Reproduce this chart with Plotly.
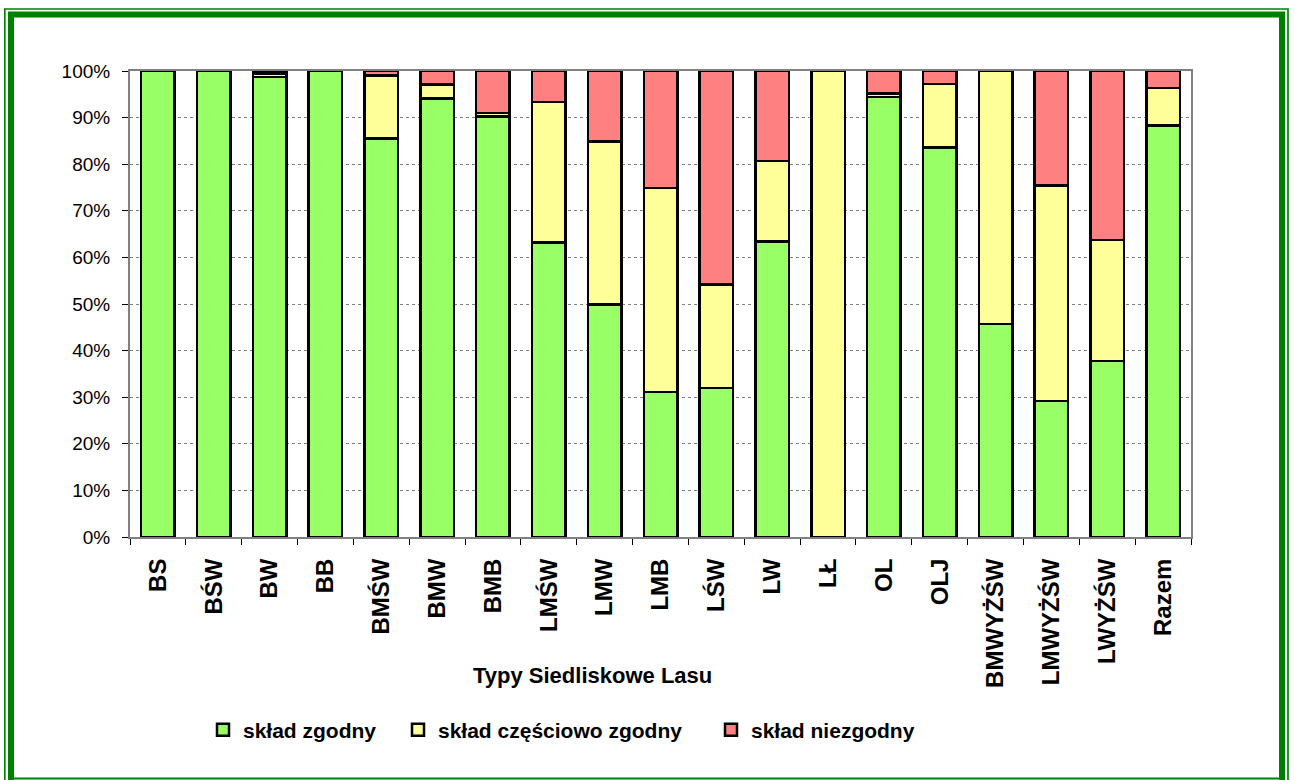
import plotly.graph_objects as go

categories = ["BS", "BŚW", "BW", "BB", "BMŚW", "BMW", "BMB", "LMŚW", "LMW", "LMB",
              "LŚW", "LW", "LŁ", "OL", "OLJ", "BMWYŻŚW", "LMWYŻŚW", "LWYŻŚW", "Razem"]
zgodny = [100, 100, 98.7, 100, 85.5, 94.1, 90.2, 63.2, 49.9, 31.1,
          32.0, 63.4, 0, 94.4, 83.6, 45.7, 29.2, 37.8, 88.3]
czesciowo = [0, 0, 0.8, 0, 13.5, 3.0, 0.8, 30.2, 35.0, 43.8,
             22.2, 17.3, 100, 0.8, 13.6, 54.3, 46.2, 25.9, 8.0]
niezgodny = [0, 0, 0.5, 0, 1.0, 2.9, 9.0, 6.6, 15.1, 25.1,
             45.8, 19.3, 0, 4.8, 2.8, 0, 24.6, 36.3, 3.7]
series_names = ["skład zgodny", "skład częściowo zgodny", "skład niezgodny"]
y_ticks = list(range(0, 101, 10))
y_ticklabels = [f"{v}%" for v in y_ticks]
x_title = "Typy Siedliskowe Lasu"

W, H = 1295, 780
L, R, T, B = 130, 1191, 71, 537

colors = ["#99FF66", "#FFFF99", "#FF8080"]
FONT = "Liberation Sans, Arial, sans-serif"

fig = go.Figure()
for i, (name, vals) in enumerate(zip(series_names, [zgodny, czesciowo, niezgodny])):
    fig.add_trace(go.Bar(
        x=categories, y=vals, name=name, width=0.6, showlegend=True,
        marker=dict(color=colors[i], line=dict(color="black", width=2.5)),
        legend=["legend", "legend2", "legend3"][i],
    ))

def px_x(p):
    return (p - L) / (R - L)

def px_y(p):
    return (B - p) / (B - T)

leg_common = dict(orientation="h", xanchor="left", yanchor="middle", visible=True,
                  font=dict(family=FONT, size=21, color="black", weight="bold"),
                  bgcolor="rgba(0,0,0,0)", itemclick=False, itemdoubleclick=False)
fig.update_layout(
    showlegend=True,
    legend=dict(x=px_x(203), y=px_y(730), **leg_common),
    legend2=dict(x=px_x(398), y=px_y(730), **leg_common),
    legend3=dict(x=px_x(711), y=px_y(730), **leg_common),
)

fig.update_layout(
    width=W, height=H, barmode="stack",
    margin=dict(l=L, r=W - R, t=T, b=H - B, pad=0),
    paper_bgcolor="white", plot_bgcolor="white",
    font=dict(family=FONT, color="black"),
    xaxis=dict(
        type="category", tickangle=-90, ticks="outside", tickson="boundaries",
        ticklen=6, tickcolor="black", tickwidth=1,
        showline=True, linecolor="#808080", linewidth=2, mirror=True,
        tickfont=dict(family=FONT, size=24, color="black", weight="bold"),
        showgrid=False, ticklabelstandoff=10,
    ),
    yaxis=dict(
        range=[0, 100], tickmode="array", tickvals=y_ticks, ticktext=y_ticklabels,
        ticks="outside", ticklen=6, tickcolor="black", tickwidth=1,
        showline=True, linecolor="#808080", linewidth=2, mirror=True,
        showgrid=True, gridcolor="#808080", gridwidth=1, griddash="dot",
        tickfont=dict(family=FONT, size=19, color="black"),
        ticklabelstandoff=8, zeroline=False,
    ),
)

fig.add_annotation(
    text="<b>" + x_title + "</b>", xref="paper", yref="paper",
    x=px_x(592), y=px_y(675), showarrow=False, xanchor="center", yanchor="middle",
    font=dict(family=FONT, size=22, color="black"),
)

# green frame
G = "#008000"
def rect(x0, y0, x1, y1, w):
    fig.add_shape(type="rect", xref="paper", yref="paper",
                  x0=px_x(x0), x1=px_x(x1), y0=px_y(y0), y1=px_y(y1),
                  line=dict(color=G, width=w), fillcolor="rgba(0,0,0,0)", layer="above")

rect(4.8, 9, 1288, 800, 1.7)
rect(11, 14.5, 1282, 800, 6)
fig.add_shape(type="line", xref="paper", yref="paper",
              x0=px_x(8), x1=px_x(1285), y0=px_y(778.5), y1=px_y(778.5),
              line=dict(color=G, width=2))

fig.write_html("out.html", config={"displayModeBar": False},
               post_script="document.body.style.margin='0';document.body.style.overflow='hidden';")
